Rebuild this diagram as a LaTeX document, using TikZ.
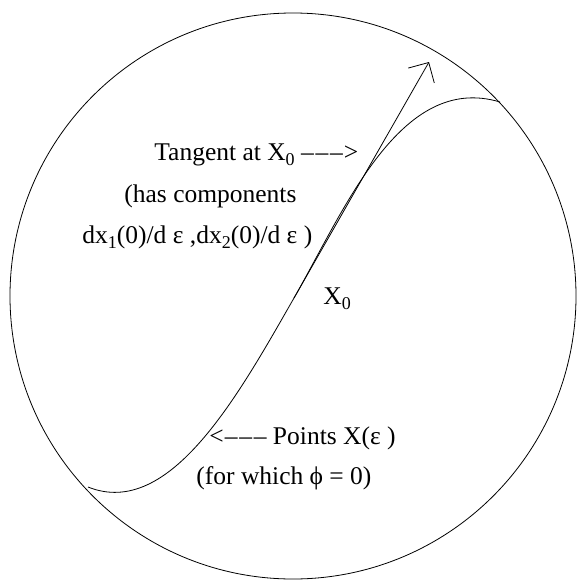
\documentclass[tikz,border=0pt]{standalone}
\usepackage{fontspec}
\setmainfont{Liberation Serif}
\usetikzlibrary{arrows.meta}
\newcommand\lowsub[1]{\raisebox{-5.5pt}{\fontsize{18}{18}\selectfont #1}}
\newcommand\dashes{–\kern1.8pt–\kern1.8pt–}
\begin{document}
\begin{tikzpicture}[
        x=1pt, y=-1pt,
        line width=0.8pt,
        lbl/.style={anchor=base west, inner sep=0pt, font=\fontsize{25.5}{30}\selectfont},
        tangent/.style={-{Straight Barb[length=15pt, width=30pt]}},
    ]
    \useasboundingbox (0,0) rectangle (576,581);
    \draw (293,296) circle[radius=283];
    \coordinate (start) at (88,487);
    \coordinate (X0) at (294,298);
    \coordinate (end) at (500,102);
    \coordinate (tip) at (429,62);
    % points where phi = 0
    \draw (start) .. controls (170,520) and (239,394) .. (X0)
                  .. controls (344,211) and (400,72) .. (end);
    \draw[tangent] (X0) -- (tip);
    \node[lbl] (tanlbl) at (154,160) {Tangent at X\lowsub{0} \dashes\kern1pt>};
    \node[lbl] (comp) at (124,202) {(has components};
    \node[lbl] (dx) at (82,243) {dx\lowsub{1}(0)/d ε ,dx\lowsub{2}(0)/d ε )};
    \node[lbl] (x0lbl) at (323,304) {X\lowsub{0}};
    \node[lbl] (pts) at (209,444) {<\kern1pt\dashes{} Points X(ε )};
    \node[lbl] (which) at (196,484) {(for which ϕ = 0)};
\end{tikzpicture}
\end{document}
